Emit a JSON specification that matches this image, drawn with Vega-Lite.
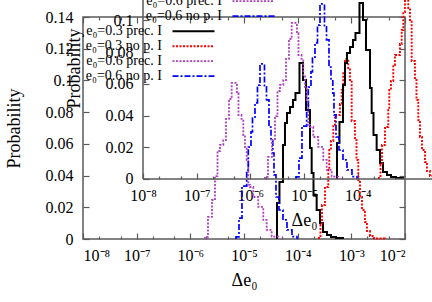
{
  "$schema": "https://vega.github.io/schema/vega-lite/v6.json",
  "width": 322,
  "height": 222,
  "autosize": {"type": "none"},
  "padding": {"left": 83, "top": 17, "right": 27, "bottom": 63},
  "config": {
    "view": {"stroke": "#5a5a5a", "strokeWidth": 1.5},
    "font": "Liberation Serif",
    "axis": {
      "grid": false, "domain": false, "tickColor": "#5a5a5a", "tickWidth": 1.2,
      "labelFont": "Liberation Serif", "labelFontSize": 16, "labelColor": "#000",
      "titleFont": "Liberation Serif", "titleFontSize": 18, "titleFontWeight": "normal", "titleColor": "#000"
    },
    "legend": {
      "orient": "none", "title": null,
      "symbolType": "M-3,0H3", "symbolSize": 196, "symbolStrokeWidth": 1.6,
      "labelAlign": "right", "labelOffset": -39.5, "labelFontSize": 14, "labelFont": "Liberation Serif", "labelColor": "#000",
      "rowPadding": -1, "padding": 0, "offset": 0, "labelLimit": 0
    }
  },
  "datasets": {
    "h": [
      {"s": "e₀=0.3 prec. I", "i": 0, "x": 4.12e-5, "p": 0},
      {"s": "e₀=0.3 prec. I", "i": 1, "x": 4.12e-5, "p": 0.0227},
      {"s": "e₀=0.3 prec. I", "i": 2, "x": 4.58e-5, "p": 0.0359},
      {"s": "e₀=0.3 prec. I", "i": 3, "x": 5.33e-5, "p": 0.0593},
      {"s": "e₀=0.3 prec. I", "i": 4, "x": 5.80e-5, "p": 0.0732},
      {"s": "e₀=0.3 prec. I", "i": 5, "x": 6.32e-5, "p": 0.0795},
      {"s": "e₀=0.3 prec. I", "i": 6, "x": 7.19e-5, "p": 0.0832},
      {"s": "e₀=0.3 prec. I", "i": 7, "x": 8.18e-5, "p": 0.0877},
      {"s": "e₀=0.3 prec. I", "i": 8, "x": 9.10e-5, "p": 0.0921},
      {"s": "e₀=0.3 prec. I", "i": 9, "x": 1.081e-4, "p": 0.111},
      {"s": "e₀=0.3 prec. I", "i": 10, "x": 1.256e-4, "p": 0.1003},
      {"s": "e₀=0.3 prec. I", "i": 11, "x": 1.429e-4, "p": 0.0814},
      {"s": "e₀=0.3 prec. I", "i": 12, "x": 1.698e-4, "p": 0.0574},
      {"s": "e₀=0.3 prec. I", "i": 13, "x": 1.824e-4, "p": 0.0416},
      {"s": "e₀=0.3 prec. I", "i": 14, "x": 1.972e-4, "p": 0.0277},
      {"s": "e₀=0.3 prec. I", "i": 15, "x": 2.259e-4, "p": 0.0183},
      {"s": "e₀=0.3 prec. I", "i": 16, "x": 2.606e-4, "p": 0.0101},
      {"s": "e₀=0.3 prec. I", "i": 17, "x": 2.965e-4, "p": 0.0044},
      {"s": "e₀=0.3 prec. I", "i": 18, "x": 3.516e-4, "p": 0.0025},
      {"s": "e₀=0.3 prec. I", "i": 19, "x": 4.18e-4, "p": 0.0013},
      {"s": "e₀=0.3 prec. I", "i": 20, "x": 5.18e-4, "p": 0.0006},
      {"s": "e₀=0.3 prec. I", "i": 21, "x": 6.98e-4, "p": 0},
      {"s": "e₀=0.3 no p. I", "i": 0, "x": 2.495e-4, "p": 0},
      {"s": "e₀=0.3 no p. I", "i": 1, "x": 2.495e-4, "p": 0.0006},
      {"s": "e₀=0.3 no p. I", "i": 2, "x": 2.661e-4, "p": 0.0088},
      {"s": "e₀=0.3 no p. I", "i": 3, "x": 2.838e-4, "p": 0.0214},
      {"s": "e₀=0.3 no p. I", "i": 4, "x": 3.228e-4, "p": 0.0328},
      {"s": "e₀=0.3 no p. I", "i": 5, "x": 3.719e-4, "p": 0.0435},
      {"s": "e₀=0.3 no p. I", "i": 6, "x": 3.882e-4, "p": 0.0561},
      {"s": "e₀=0.3 no p. I", "i": 7, "x": 4.174e-4, "p": 0.0618},
      {"s": "e₀=0.3 no p. I", "i": 8, "x": 4.609e-4, "p": 0.0719},
      {"s": "e₀=0.3 no p. I", "i": 9, "x": 4.958e-4, "p": 0.0782},
      {"s": "e₀=0.3 no p. I", "i": 10, "x": 6.142e-4, "p": 0.0851},
      {"s": "e₀=0.3 no p. I", "i": 11, "x": 6.607e-4, "p": 0.094},
      {"s": "e₀=0.3 no p. I", "i": 12, "x": 7.078e-4, "p": 0.1053},
      {"s": "e₀=0.3 no p. I", "i": 13, "x": 7.612e-4, "p": 0.1135},
      {"s": "e₀=0.3 no p. I", "i": 14, "x": 8.770e-4, "p": 0.1078},
      {"s": "e₀=0.3 no p. I", "i": 15, "x": 9.434e-4, "p": 0.1003},
      {"s": "e₀=0.3 no p. I", "i": 16, "x": 1.0148e-3, "p": 0.0744},
      {"s": "e₀=0.3 no p. I", "i": 17, "x": 1.169e-3, "p": 0.0624},
      {"s": "e₀=0.3 no p. I", "i": 18, "x": 1.247e-3, "p": 0.0498},
      {"s": "e₀=0.3 no p. I", "i": 19, "x": 1.347e-3, "p": 0.0372},
      {"s": "e₀=0.3 no p. I", "i": 20, "x": 1.449e-3, "p": 0.0265},
      {"s": "e₀=0.3 no p. I", "i": 21, "x": 1.579e-3, "p": 0.0183},
      {"s": "e₀=0.3 no p. I", "i": 22, "x": 1.795e-3, "p": 0.0107},
      {"s": "e₀=0.3 no p. I", "i": 23, "x": 1.956e-3, "p": 0.005},
      {"s": "e₀=0.3 no p. I", "i": 24, "x": 2.225e-3, "p": 0.0019},
      {"s": "e₀=0.3 no p. I", "i": 25, "x": 2.642e-3, "p": 0.0003},
      {"s": "e₀=0.3 no p. I", "i": 26, "x": 4.234e-3, "p": 0},
      {"s": "e₀=0.6 prec. I", "i": 0, "x": 1.876e-6, "p": 0},
      {"s": "e₀=0.6 prec. I", "i": 1, "x": 1.876e-6, "p": 0.0013},
      {"s": "e₀=0.6 prec. I", "i": 2, "x": 2.133e-6, "p": 0.0139},
      {"s": "e₀=0.6 prec. I", "i": 3, "x": 2.532e-6, "p": 0.0246},
      {"s": "e₀=0.6 prec. I", "i": 4, "x": 2.880e-6, "p": 0.0397},
      {"s": "e₀=0.6 prec. I", "i": 5, "x": 3.206e-6, "p": 0.0555},
      {"s": "e₀=0.6 prec. I", "i": 6, "x": 3.569e-6, "p": 0.0593},
      {"s": "e₀=0.6 prec. I", "i": 7, "x": 4.112e-6, "p": 0.0624},
      {"s": "e₀=0.6 prec. I", "i": 8, "x": 4.617e-6, "p": 0.0757},
      {"s": "e₀=0.6 prec. I", "i": 9, "x": 5.253e-6, "p": 0.0883},
      {"s": "e₀=0.6 prec. I", "i": 10, "x": 5.897e-6, "p": 0.0984},
      {"s": "e₀=0.6 prec. I", "i": 11, "x": 7.400e-6, "p": 0.0921},
      {"s": "e₀=0.6 prec. I", "i": 12, "x": 7.892e-6, "p": 0.0782},
      {"s": "e₀=0.6 prec. I", "i": 13, "x": 8.979e-6, "p": 0.0757},
      {"s": "e₀=0.6 prec. I", "i": 14, "x": 9.699e-6, "p": 0.0656},
      {"s": "e₀=0.6 prec. I", "i": 15, "x": 1.043e-5, "p": 0.058},
      {"s": "e₀=0.6 prec. I", "i": 16, "x": 1.122e-5, "p": 0.0498},
      {"s": "e₀=0.6 prec. I", "i": 17, "x": 1.202e-5, "p": 0.0341},
      {"s": "e₀=0.6 prec. I", "i": 18, "x": 1.293e-5, "p": 0.0328},
      {"s": "e₀=0.6 prec. I", "i": 19, "x": 1.489e-5, "p": 0.0265},
      {"s": "e₀=0.6 prec. I", "i": 20, "x": 1.845e-5, "p": 0.0202},
      {"s": "e₀=0.6 prec. I", "i": 21, "x": 2.287e-5, "p": 0.012},
      {"s": "e₀=0.6 prec. I", "i": 22, "x": 2.647e-5, "p": 0.0057},
      {"s": "e₀=0.6 prec. I", "i": 23, "x": 3.280e-5, "p": 0.0015},
      {"s": "e₀=0.6 prec. I", "i": 24, "x": 4.353e-5, "p": 0},
      {"s": "e₀=0.6 no p. I", "i": 0, "x": 7.09e-6, "p": 0},
      {"s": "e₀=0.6 no p. I", "i": 1, "x": 7.09e-6, "p": 0.0013},
      {"s": "e₀=0.6 no p. I", "i": 2, "x": 8.06e-6, "p": 0.0132},
      {"s": "e₀=0.6 no p. I", "i": 3, "x": 9.17e-6, "p": 0.0334},
      {"s": "e₀=0.6 no p. I", "i": 4, "x": 1.122e-5, "p": 0.0435},
      {"s": "e₀=0.6 no p. I", "i": 5, "x": 1.202e-5, "p": 0.058},
      {"s": "e₀=0.6 no p. I", "i": 6, "x": 1.350e-5, "p": 0.0675},
      {"s": "e₀=0.6 no p. I", "i": 7, "x": 1.439e-5, "p": 0.0763},
      {"s": "e₀=0.6 no p. I", "i": 8, "x": 1.602e-5, "p": 0.0858},
      {"s": "e₀=0.6 no p. I", "i": 9, "x": 1.783e-5, "p": 0.0971},
      {"s": "e₀=0.6 no p. I", "i": 10, "x": 1.986e-5, "p": 0.1104},
      {"s": "e₀=0.6 no p. I", "i": 11, "x": 2.408e-5, "p": 0.0959},
      {"s": "e₀=0.6 no p. I", "i": 12, "x": 2.624e-5, "p": 0.0877},
      {"s": "e₀=0.6 no p. I", "i": 13, "x": 2.921e-5, "p": 0.0706},
      {"s": "e₀=0.6 no p. I", "i": 14, "x": 3.184e-5, "p": 0.0624},
      {"s": "e₀=0.6 no p. I", "i": 15, "x": 3.440e-5, "p": 0.0542},
      {"s": "e₀=0.6 no p. I", "i": 16, "x": 3.621e-5, "p": 0.0404},
      {"s": "e₀=0.6 no p. I", "i": 17, "x": 3.945e-5, "p": 0.0265},
      {"s": "e₀=0.6 no p. I", "i": 18, "x": 4.486e-5, "p": 0.0183},
      {"s": "e₀=0.6 no p. I", "i": 19, "x": 5.325e-5, "p": 0.012},
      {"s": "e₀=0.6 no p. I", "i": 20, "x": 6.322e-5, "p": 0.0057},
      {"s": "e₀=0.6 no p. I", "i": 21, "x": 7.834e-5, "p": 0.0015},
      {"s": "e₀=0.6 no p. I", "i": 22, "x": 9.71e-5, "p": 0}
    ]
  },
  "layer": [
    {
      "data": {"name": "h"},
      "layer": [
        {
          "mark": {"type": "line", "interpolate": "step-after", "clip": false},
          "encoding": {
            "x": {"field": "x", "type": "quantitative",
              "scale": {"type": "log", "domain": [1e-8, 1e-2], "nice": false},
              "axis": {"orient": "bottom", "title": "Δe₀", "titlePadding": 8,
                "values": [1e-8, 2e-8, 5e-8, 1e-7, 2e-7, 5e-7, 1e-6, 2e-6, 5e-6, 1e-5, 2e-5, 5e-5, 1e-4, 2e-4, 5e-4, 1e-3, 2e-3, 5e-3, 1e-2],
                "labelExpr": "abs(log(datum.value)/LN10 - round(log(datum.value)/LN10)) < 0.01 ? '10⁻' + ['⁰','¹','²','³','⁴','⁵','⁶','⁷','⁸','⁹'][-round(log(datum.value)/LN10)] : ''",
                "tickSize": {"condition": {"test": "abs(log(datum.value)/LN10 - round(log(datum.value)/LN10)) < 0.01", "value": -6}, "value": -3},
                "labelPadding": 14}},
            "y": {"field": "p", "type": "quantitative",
              "scale": {"domain": [0, 0.14], "nice": false, "zero": false},
              "axis": {"orient": "left", "title": "Probability", "titlePadding": 22,
                "values": [0, 0.02, 0.04, 0.06, 0.08, 0.1, 0.12, 0.14], "format": ".2~f",
                "tickSize": -6, "labelPadding": 16}},
            "order": {"field": "i"},
            "color": {"field": "s", "type": "nominal",
              "scale": {"domain": ["e₀=0.3 prec. I", "e₀=0.3 no p. I", "e₀=0.6 prec. I", "e₀=0.6 no p. I"], "range": ["#000000", "#ff0000", "#b040c0", "#0000ff"]},
              "legend": {"legendX": 102.5, "legendY": 6.2}},
            "strokeDash": {"field": "s", "type": "nominal",
              "scale": {"domain": ["e₀=0.3 prec. I", "e₀=0.3 no p. I", "e₀=0.6 prec. I", "e₀=0.6 no p. I"], "range": [[1, 0], [2, 1.5], [2, 1.5], [6, 2, 2, 2]]},
              "legend": {"legendX": 102.5, "legendY": 6.2}},
            "strokeWidth": {"field": "s", "type": "nominal",
              "scale": {"domain": ["e₀=0.3 prec. I", "e₀=0.3 no p. I", "e₀=0.6 prec. I", "e₀=0.6 no p. I"], "range": [2, 1.7, 1.7, 1.7]},
              "legend": null}
          }
        },
        {
          "mark": {"type": "point", "opacity": 0},
          "encoding": {
            "x": {"field": "x", "type": "quantitative",
              "axis": {"orient": "top", "title": null, "labels": false,
                "values": [1e-8, 2e-8, 5e-8, 1e-7, 2e-7, 5e-7, 1e-6, 2e-6, 5e-6, 1e-5, 2e-5, 5e-5, 1e-4, 2e-4, 5e-4, 1e-3, 2e-3, 5e-3, 1e-2],
                "tickSize": {"condition": {"test": "abs(log(datum.value)/LN10 - round(log(datum.value)/LN10)) < 0.01", "value": -6}, "value": -3}}},
            "y": {"field": "p", "type": "quantitative",
              "axis": {"orient": "right", "title": null, "labels": false,
                "values": [0, 0.02, 0.04, 0.06, 0.08, 0.1, 0.12, 0.14], "tickSize": -6}}
          }
        }
      ],
      "resolve": {"axis": {"x": "independent", "y": "independent"}}
    },
    {
      "layer": [
        {
          "data": {"name": "h"},
          "mark": {"type": "line", "interpolate": "step-after", "clip": false},
          "encoding": {
            "x": {"field": "x", "type": "quantitative",
              "scale": {"type": "log", "domain": [7.622e-10, 7.622e-4], "nice": false},
              "axis": {"orient": "bottom", "offset": -60, "title": "Δe₀", "titlePadding": 8, "titleX": 221,
                "values": [1e-8, 2e-8, 5e-8, 1e-7, 2e-7, 5e-7, 1e-6, 2e-6, 5e-6, 1e-5, 2e-5, 5e-5, 1e-4, 2e-4, 5e-4, 1e-3, 2e-3, 5e-3, 1e-2],
                "labelExpr": "abs(log(datum.value)/LN10 - round(log(datum.value)/LN10)) < 0.01 ? '10⁻' + ['⁰','¹','²','³','⁴','⁵','⁶','⁷','⁸','⁹'][-round(log(datum.value)/LN10)] : ''",
                "tickSize": {"condition": {"test": "abs(log(datum.value)/LN10 - round(log(datum.value)/LN10)) < 0.01", "value": -6}, "value": -3},
                "labelPadding": 14}},
            "y": {"field": "p", "type": "quantitative",
              "scale": {"domain": [-0.037838, 0.102162], "nice": false, "zero": false},
              "axis": {"orient": "left", "offset": -60, "title": "Probability", "titlePadding": 22, "titleY": 51,
                "values": [0, 0.02, 0.04, 0.06, 0.08, 0.1], "format": ".2~f",
                "tickSize": -6, "labelPadding": 16}},
            "order": {"field": "i"},
            "color": {"field": "s", "type": "nominal",
              "scale": {"domain": ["e₀=0.3 prec. I", "e₀=0.3 no p. I", "e₀=0.6 prec. I", "e₀=0.6 no p. I"], "range": ["#000000", "#ff0000", "#b040c0", "#0000ff"]},
              "legend": {"legendX": 162.5, "legendY": -53.8}},
            "strokeDash": {"field": "s", "type": "nominal",
              "scale": {"domain": ["e₀=0.3 prec. I", "e₀=0.3 no p. I", "e₀=0.6 prec. I", "e₀=0.6 no p. I"], "range": [[1, 0], [2, 1.5], [2, 1.5], [6, 2, 2, 2]]},
              "legend": {"legendX": 162.5, "legendY": -53.8}},
            "strokeWidth": {"field": "s", "type": "nominal",
              "scale": {"domain": ["e₀=0.3 prec. I", "e₀=0.3 no p. I", "e₀=0.6 prec. I", "e₀=0.6 no p. I"], "range": [2, 1.7, 1.7, 1.7]},
              "legend": null}
          }
        },
        {
          "data": {"values": [{}]},
          "mark": {"type": "rule", "color": "#5a5a5a", "strokeWidth": 1.5, "clip": false},
          "encoding": {
            "x": {"datum": 1e-8, "type": "quantitative"},
            "y": {"datum": 0, "type": "quantitative"},
            "y2": {"datum": 0.14}
          }
        },
        {
          "data": {"values": [{}]},
          "mark": {"type": "rule", "color": "#5a5a5a", "strokeWidth": 1.5, "clip": false},
          "encoding": {
            "y": {"datum": 0, "type": "quantitative"},
            "x": {"datum": 1e-8, "type": "quantitative"},
            "x2": {"datum": 1e-2}
          }
        }
      ]
    }
  ],
  "resolve": {"scale": {"x": "independent", "y": "independent", "color": "independent", "strokeDash": "independent", "strokeWidth": "independent"}}
}
